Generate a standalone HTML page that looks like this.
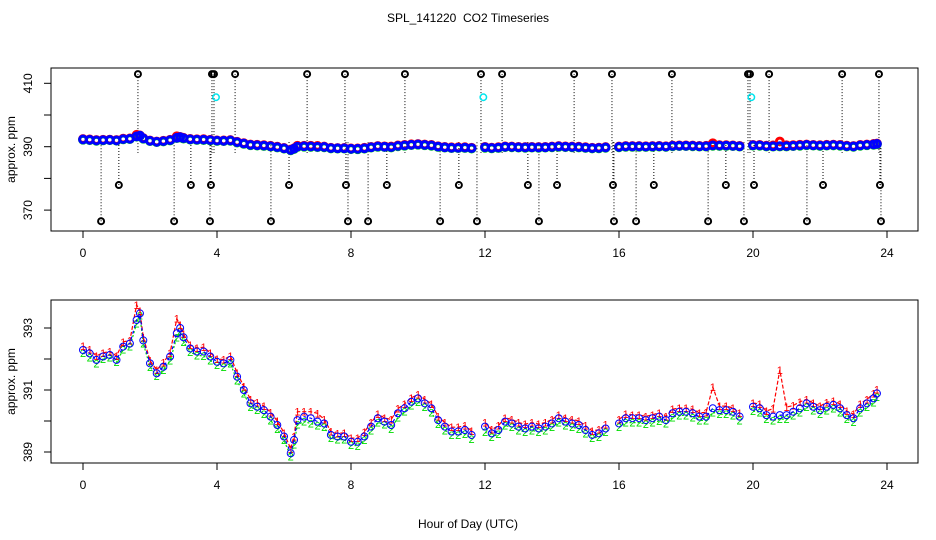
<!DOCTYPE html>
<html><head><meta charset="utf-8">
<style>
html,body{margin:0;padding:0;background:#fff;}
svg{display:block;font-family:"Liberation Sans",Arial,sans-serif;}
</style></head>
<body>
<svg id="chart" width="936" height="540" viewBox="0 0 936 540">
<rect x="0" y="0" width="936" height="540" fill="#fff"/>
<text x="468" y="22" font-size="12" text-anchor="middle" style="white-space:pre">SPL_141220  CO2 Timeseries</text>
<text x="468" y="528" font-size="12" text-anchor="middle">Hour of Day (UTC)</text>
<g id="top"></g>
<g id="bot"></g>
</svg>
<script>
const times = [0,0.2,0.4,0.6,0.8,1.0,1.2,1.4,1.6,1.7,1.8,2.0,2.2,2.4,2.6,2.8,2.9,3.0,3.2,3.4,3.6,3.8,4.0,4.2,4.4,4.6,4.8,5.0,5.2,5.4,5.6,5.8,6.0,6.2,6.3,6.4,6.6,6.8,7.0,7.2,7.4,7.6,7.8,8.0,8.2,8.4,8.6,8.8,9.0,9.2,9.4,9.6,9.8,10.0,10.2,10.4,10.6,10.8,11.0,11.2,11.4,11.6,
12.0,12.2,12.4,12.6,12.8,13.0,13.2,13.4,13.6,13.8,14.0,14.2,14.4,14.6,14.8,15.0,15.2,15.4,15.6,
16.0,16.2,16.4,16.6,16.8,17.0,17.2,17.4,17.6,17.8,18.0,18.2,18.4,18.6,18.8,19.0,19.2,19.4,19.6,
20.0,20.2,20.4,20.6,20.8,21.0,21.2,21.4,21.6,21.8,22.0,22.2,22.4,22.6,22.8,23.0,23.2,23.4,23.6,23.7];
const series1 = [392.42,392.3,392.1,392.2,392.24,392.1,392.55,392.6,393.75,393.55,392.7,391.95,391.65,391.88,392.2,393.3,393.1,392.8,392.45,392.36,392.38,392.2,392.0,391.98,392.1,391.55,391.12,390.7,390.6,390.48,390.28,390.0,389.62,389.1,389.5,390.3,390.3,390.3,390.25,390.05,389.66,389.6,389.62,389.45,389.45,389.65,389.95,390.22,390.1,390.05,390.4,390.55,390.75,390.85,390.7,390.55,390.15,389.95,389.8,389.8,389.85,389.68,
389.95,389.72,389.85,390.1,390.05,389.95,389.9,389.95,389.9,389.95,390.05,390.2,390.1,390.05,390.0,389.85,389.68,389.72,389.88,
390.05,390.22,390.2,390.2,390.15,390.2,390.26,390.15,390.38,390.42,390.42,390.38,390.26,390.28,391.1,390.48,390.48,390.42,390.26,
390.58,390.55,390.32,390.4,391.65,390.45,390.5,390.62,390.7,390.58,390.48,390.6,390.65,390.55,390.32,390.22,390.55,390.7,390.88,391.02];
const series2 = [392.2,392.05,391.85,392.0,392.05,391.9,392.3,392.4,393.15,393.4,392.5,391.75,391.45,391.65,391.95,392.7,392.9,392.55,392.22,392.12,392.1,391.95,391.8,391.75,391.85,391.3,390.88,390.45,390.35,390.22,390.02,389.75,389.38,388.85,389.25,389.88,389.98,389.92,389.85,389.8,389.45,389.4,389.4,389.22,389.2,389.38,389.7,389.95,389.88,389.75,390.12,390.3,390.5,390.62,390.45,390.28,389.9,389.7,389.55,389.55,389.58,389.42,
389.65,389.48,389.58,389.85,389.8,389.7,389.65,389.7,389.65,389.7,389.8,389.95,389.85,389.8,389.75,389.6,389.45,389.48,389.65,
389.8,389.95,389.95,389.95,389.9,389.95,390.0,389.92,390.12,390.18,390.18,390.12,390.02,390.02,390.28,390.22,390.22,390.18,390.02,
390.32,390.28,390.06,390.02,390.06,390.06,390.18,390.28,390.45,390.34,390.22,390.34,390.4,390.28,390.06,389.96,390.28,390.45,390.6,390.78];
const series3 = [392.29,392.18,391.97,392.08,392.13,391.97,392.4,392.5,393.26,393.47,392.6,391.86,391.54,391.75,392.08,392.83,393.0,392.7,392.34,392.24,392.24,392.08,391.91,391.86,391.97,391.43,391.0,390.57,390.46,390.35,390.14,389.87,389.5,388.96,389.39,390.03,390.14,390.09,389.98,389.92,389.55,389.5,389.5,389.33,389.33,389.5,389.82,390.09,389.98,389.87,390.25,390.41,390.62,390.73,390.57,390.41,390.03,389.82,389.66,389.66,389.71,389.55,
389.82,389.6,389.71,389.98,389.92,389.82,389.76,389.82,389.76,389.82,389.92,390.09,389.98,389.92,389.87,389.71,389.55,389.6,389.76,
389.92,390.09,390.09,390.09,390.03,390.09,390.14,390.03,390.25,390.3,390.3,390.25,390.14,390.14,390.41,390.35,390.35,390.3,390.14,
390.46,390.41,390.19,390.14,390.19,390.19,390.3,390.41,390.57,390.46,390.35,390.46,390.52,390.41,390.19,390.09,390.41,390.57,390.73,390.89];
const outlierTimes = [1.64,3.85,3.91,4.54,6.69,7.82,9.61,11.88,12.51,14.66,15.79,17.58,19.85,19.91,20.48,22.66,23.76,
1.07,3.22,3.82,6.15,7.85,9.07,11.22,13.28,14.15,15.82,17.04,19.19,20.03,22.09,23.79,
0.54,2.72,3.79,5.61,7.91,8.51,10.66,11.76,13.61,15.85,16.51,18.66,19.73,21.61,23.82];
const outlierValues = [412.9,412.9,412.9,412.9,412.9,412.9,412.9,412.9,412.9,412.9,412.9,412.9,412.9,412.9,412.9,412.9,412.9,
377.9,377.9,377.9,377.9,377.9,377.9,377.9,377.9,377.9,377.9,377.9,377.9,377.9,377.9,377.9,
366.5,366.5,366.5,366.5,366.5,366.5,366.5,366.5,366.5,366.5,366.5,366.5,366.5,366.5,366.5];
const cyanTimes = [3.97,11.95,19.95];
const cyanValues = [405.6,405.6,405.6];
const xTicks = [0,4,8,12,16,20,24];
const topYTicks = [370,380,390,400,410];
const topYLabels = ["370","","390","","410"];
const botYTicks = [389,390,391,392,393];
const botYLabels = ["389","","391","","393"];

const NS = "http://www.w3.org/2000/svg";
function mk(tag, attrs, parent){const e=document.createElementNS(NS,tag);for(const k in attrs)e.setAttribute(k,attrs[k]);parent.appendChild(e);return e;}
const X = t => 83 + t * 33.5;
const Ytop = v => 146.7 - (v - 390) * 3.17;
const Ybot = v => 390 - (v - 391) * 31;
function segments(){const segs=[];let cur=[];for(let i=0;i<times.length;i++){if(i>0&&times[i]-times[i-1]>0.3){segs.push(cur);cur=[];}cur.push(i);}segs.push(cur);return segs;}

function axes(g, top, bot, Y, ticks, labels, prefix){
  const box=mk('rect',{x:51,y:top,width:867,height:bot-top,fill:'none',stroke:'#000','stroke-width':1},g);
  
  
  const xa=mk('g',{},g);
  
  
  mk('line',{x1:X(0),x2:X(24),y1:bot,y2:bot,stroke:'#000'},xa);
  xTicks.forEach(t=>{
    mk('line',{x1:X(t),x2:X(t),y1:bot,y2:bot+7,stroke:'#000'},xa);
    const tx=mk('text',{x:X(t),y:bot+26,'font-size':12,'text-anchor':'middle'},xa);
    tx.textContent=String(t);
    
    
  });
  const ya=mk('g',{},g);
  
  
  mk('line',{x1:51,x2:51,y1:Y(ticks[0]),y2:Y(ticks[ticks.length-1]),stroke:'#000'},ya);
  ticks.forEach((v,i)=>{
    mk('line',{x1:44,x2:51,y1:Y(v),y2:Y(v),stroke:'#000'},ya);
    if(labels[i]){
      const tx=mk('text',{x:0,y:0,'font-size':12,'text-anchor':'middle',transform:`translate(32,${Y(v)}) rotate(-90)`},ya);
      tx.textContent=labels[i];
      
      
    }
  });
  const yt=mk('text',{x:0,y:0,'font-size':12,'text-anchor':'middle',transform:`translate(15,${(top+bot)/2}) rotate(-90)`},g);
  yt.textContent='approx. ppm';
  
  
}

// TOP PANEL
const gt=document.getElementById('top');
axes(gt,68,231,Ytop,topYTicks,topYLabels,'top');
const outG=mk('g',{},gt);


outlierTimes.forEach((t,i)=>{
  const v=outlierValues[i];
  const end = v>390 ? 388 : 392;
  mk('line',{x1:X(t),x2:X(t),y1:Ytop(v),y2:Ytop(end),stroke:'#000','stroke-width':1,'stroke-dasharray':'1,2'},outG);
  const c=mk('circle',{cx:X(t),cy:Ytop(v),r:3,fill:'none',stroke:'#000','stroke-width':2},outG);
  
  
});
const topSeries=[[series1,'#ff0000'],[series2,'#00dd00'],[series3,'#0000ff']];
topSeries.forEach(([arr,col],si)=>{
  const sg=mk('g',{},gt);
  
  
  arr.forEach((v,i)=>{
    const c=mk('circle',{cx:X(times[i]),cy:Ytop(v),r:3.4,fill:'none',stroke:col,'stroke-width':3},sg);
    
    
  });
});
cyanTimes.forEach((t,i)=>{
  const c=mk('circle',{cx:X(t),cy:Ytop(cyanValues[i]),r:3.2,fill:'none',stroke:'#00e5ee','stroke-width':1.5},gt);
  
  
});

// BOTTOM PANEL
const gb=document.getElementById('bot');
axes(gb,300,463,Ybot,botYTicks,botYLabels,'bottom');
const segs=segments();
const botSeries=[[series2,'#00dd00','2','2,2'],[series1,'#ff0000','1','4,2'],[series3,'#0000ff','3','3,3']];
botSeries.forEach(([arr,col,ch,dash])=>{
  const sg=mk('g',{},gb);
  
  
  segs.forEach(s=>{
    const pts=s.map(i=>X(times[i]).toFixed(1)+','+Ybot(arr[i]).toFixed(1)).join(' ');
    const pl=mk('polyline',{points:pts,fill:'none',stroke:col,'stroke-width':1.2,'stroke-dasharray':dash},sg);
    
    
  });
  arr.forEach((v,i)=>{
    if(ch==='3'){
      const c=mk('circle',{cx:X(times[i]),cy:Ybot(v),r:3.5,fill:'none',stroke:col,'stroke-width':1},sg);
      
      
    } else {
      const tx=mk('text',{x:X(times[i]),y:Ybot(v)+4,'font-size':11,'text-anchor':'middle',fill:col},sg);
      tx.textContent=ch;
      
      
    }
  });
});
</script>
</body></html>
